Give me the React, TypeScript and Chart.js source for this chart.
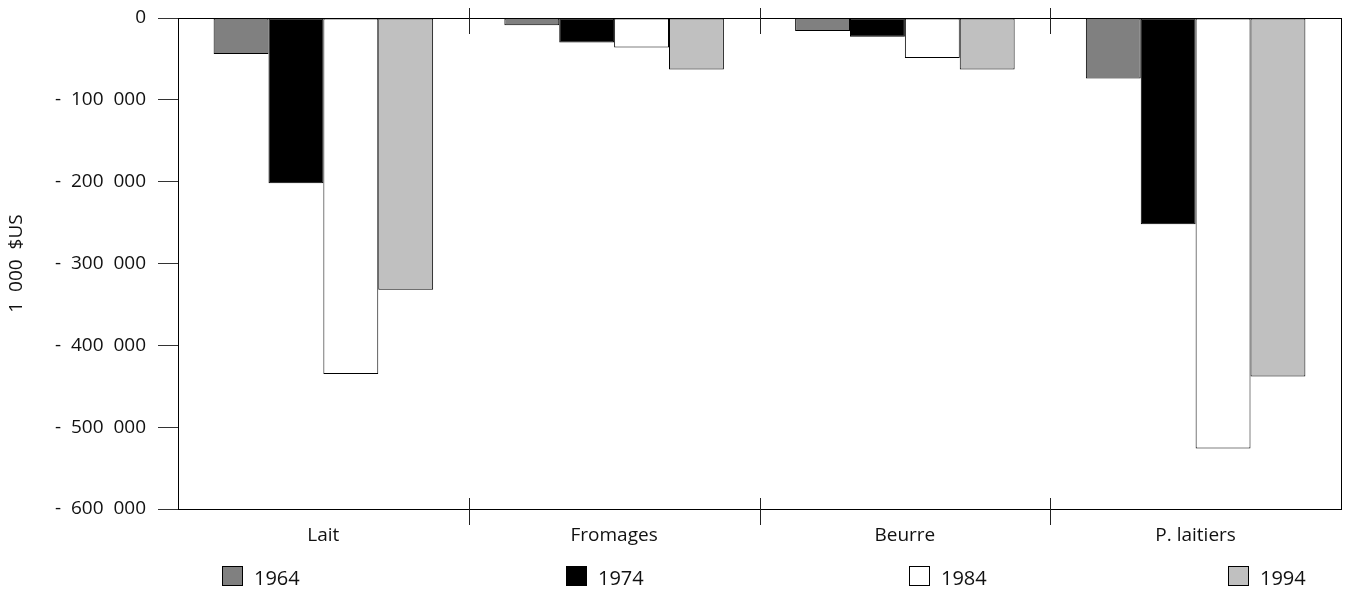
import React, { useEffect, useRef } from 'react';
import { Chart, registerables } from 'chart.js';

Chart.register(...registerables);

const categories = ['Lait', 'Fromages', 'Beurre', 'P. laitiers'];
const seriesLabels = ['1964', '1974', '1984', '1994'];
const values1964 = [-44000, -9000, -16000, -74000];
const values1974 = [-202000, -30000, -23000, -252000];
const values1984 = [-435000, -36000, -49000, -526000];
const values1994 = [-332000, -63000, -63000, -438000];
const seriesColors = ['#808080', '#000000', '#ffffff', '#c0c0c0'];
const yMin = -600000;
const yMax = 0;
const yStep = 100000;
const yTitle = '1  000  $US';

const FONT = '"Open Sans", "DejaVu Sans", sans-serif';

function formatTick(v: number): string {
  if (v === 0) return '0';
  const s = String(Math.abs(v)).replace(/\B(?=(\d{3})+(?!\d))/g, '  ');
  return (v < 0 ? '-  ' : '') + s;
}

const legendSwatchX = [222, 566, 909, 1228];

const framePlugin = {
  id: 'frameAndLegend',
  afterDraw(chart: any) {
    const { ctx, chartArea } = chart;
    const xs = chart.scales.x;
    ctx.save();
    // frame
    ctx.strokeStyle = '#000';
    ctx.lineWidth = 1;
    ctx.strokeRect(
      Math.round(chartArea.left) + 0.5,
      Math.round(chartArea.top) + 0.5,
      Math.round(chartArea.right - chartArea.left),
      Math.round(chartArea.bottom - chartArea.top)
    );
    // category dividers
    ctx.strokeStyle = '#222';
    for (let i = 1; i < categories.length; i++) {
      const x = Math.round((xs.getPixelForValue(i - 1) + xs.getPixelForValue(i)) / 2) + 0.5;
      ctx.beginPath();
      ctx.moveTo(x, chartArea.top - 10);
      ctx.lineTo(x, chartArea.top + 16);
      ctx.moveTo(x, chartArea.bottom - 11);
      ctx.lineTo(x, chartArea.bottom + 16);
      ctx.stroke();
    }
    // legend
    ctx.font = '20px ' + FONT;
    ctx.textBaseline = 'middle';
    ctx.textAlign = 'left';
    chart.data.datasets.forEach((ds: any, i: number) => {
      const x = legendSwatchX[i];
      const y = 566;
      ctx.fillStyle = ds.backgroundColor;
      ctx.fillRect(x, y, 21, 20);
      ctx.strokeStyle = '#000';
      ctx.strokeRect(x + 0.5, y + 0.5, 20, 19);
      ctx.fillStyle = '#111';
      ctx.fillText(ds.label, x + 32, y + 13);
    });
    ctx.restore();
  },
};

export default function App() {
  const ref = useRef<HTMLCanvasElement | null>(null);
  useEffect(() => {
    if (!ref.current) return;
    const datasets = [values1964, values1974, values1984, values1994].map((vals, i) => ({
      label: seriesLabels[i],
      data: vals,
      backgroundColor: seriesColors[i],
      borderColor: '#000',
      borderWidth: 1,
      borderSkipped: false,
      categoryPercentage: 0.755,
      barPercentage: 1,
    }));
    const chart = new Chart(ref.current, {
      type: 'bar',
      data: { labels: categories, datasets },
      plugins: [framePlugin],
      options: {
        animation: false,
        responsive: true,
        maintainAspectRatio: false,
        layout: { padding: { top: 18, right: 5, bottom: 0, left: 0 } },
        plugins: { legend: { display: false }, tooltip: { enabled: false } },
        scales: {
          x: {
            grid: { display: false, drawTicks: false },
            border: { display: false },
            ticks: { color: '#111', font: { family: FONT, size: 19 }, padding: 15, maxRotation: 0 },
            afterFit: (s: any) => { s.height = 82; s.paddingLeft = 0; s.paddingRight = 0; },
          },
          y: {
            min: yMin,
            max: yMax,
            ticks: {
              stepSize: yStep,
              color: '#111',
              font: { family: FONT, size: 19 },
              padding: 12,
              callback: (v: any) => formatTick(Number(v)),
            },
            grid: { drawOnChartArea: false, drawTicks: true, tickLength: 20, color: '#333' },
            border: { display: true, color: '#000' },
            title: {
              display: true,
              text: yTitle,
              color: '#111',
              font: { family: FONT, size: 19 },
              padding: 5,
            },
            afterFit: (s: any) => { s.width = 178; s.paddingTop = 0; s.paddingBottom = 0; },
          },
        },
      },
    });
    return () => chart.destroy();
  }, []);
  return (
    <div style={{ position: 'absolute', left: 0, top: 0, width: 1346, height: 591 }}>
      <canvas ref={ref} />
    </div>
  );
}
